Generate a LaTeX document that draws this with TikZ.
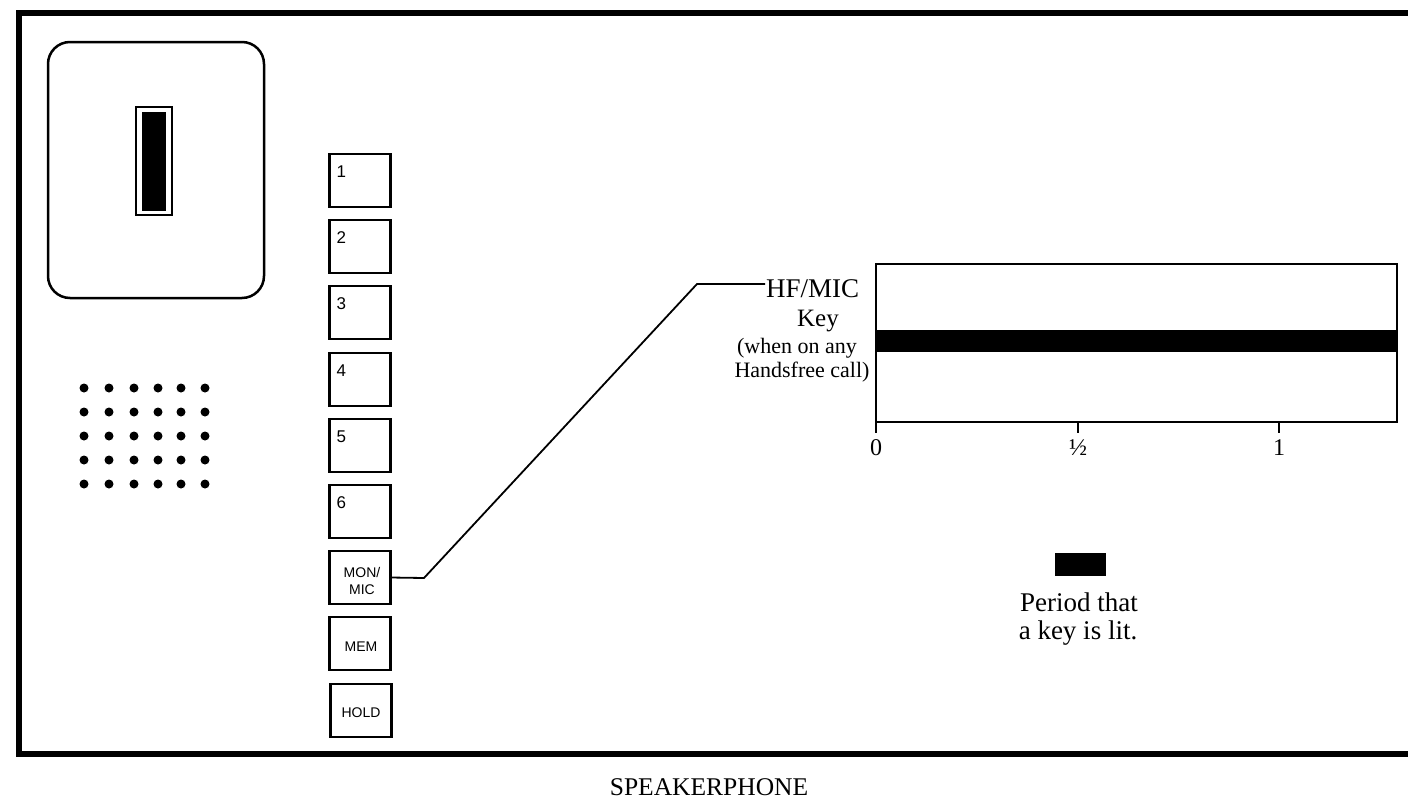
\documentclass[tikz,border=0pt]{standalone}
\usepackage{fontspec}
\setmainfont{Liberation Serif}
\newfontfamily\keyfont{Liberation Sans}
\begin{document}
\begin{tikzpicture}[x=1pt,y=-1pt,
  keybox/.style={draw, line width=2.2pt, minimum width=61pt, minimum height=53pt, inner sep=0pt, outer sep=0pt},
  keynum/.style={anchor=base west, inner sep=0pt, font=\keyfont\fontsize{17}{17}\selectfont},
  keylbl/.style={anchor=base, inner sep=0pt, font=\keyfont\fontsize{14}{14}\selectfont},
  serifbig/.style={anchor=base, inner sep=0pt, font=\fontsize{25}{25}\selectfont},
  seriflegend/.style={anchor=base, inner sep=0pt, font=\fontsize{27}{27}\selectfont},
  serifsmall/.style={anchor=base, inner sep=0pt, font=\fontsize{22}{22}\selectfont},
  ticklbl/.style={anchor=base, inner sep=0pt, font=\fontsize{24}{24}\selectfont},
  conn/.style={line width=1.8pt, line join=round}]
\useasboundingbox (0,0) rectangle (1408,798);
\fill[white] (0,0) rectangle (1408,798);
% outer frame (open to the right)
\draw[line width=6pt, line join=miter] (1408,13) -- (19,13) -- (19,754) -- (1408,754);
% handset area
\node[draw, line width=2.5pt, rounded corners=22pt, minimum width=216pt, minimum height=256pt, inner sep=0pt, outer sep=0pt] (handset) at (156,170) {};
\node[draw, line width=1.5pt, minimum width=36pt, minimum height=108pt, inner sep=0pt, outer sep=0pt] (slot) at (154,161) {};
\node[fill=black, minimum width=24pt, minimum height=99pt, inner sep=0pt, outer sep=0pt] (slotfill) at (154,161.5) {};
% speaker grille
\foreach \x in {84,109,134,158,181,205}
  \foreach \y in {388,412,436,460,484}
    \fill (\x,\y) circle (4.5pt);
% keys
\node[keybox] (k1) at (360,180.5) {};
\node[keybox] (k2) at (360,246.5) {};
\node[keybox] (k3) at (360,312.5) {};
\node[keybox] (k4) at (360,379.5) {};
\node[keybox] (k5) at (360,445.5) {};
\node[keybox] (k6) at (360,511.5) {};
\node[keybox] (kmon) at (360,577.5) {};
\node[keybox] (kmem) at (360,643.5) {};
\node[keybox] (khold) at (361,710.5) {};
\node[keynum] (n1) at ([shift={(7pt,-23pt)}]k1.north west) {1};
\node[keynum] (n2) at ([shift={(7pt,-23pt)}]k2.north west) {2};
\node[keynum] (n3) at ([shift={(7pt,-23pt)}]k3.north west) {3};
\node[keynum] (n4) at ([shift={(7pt,-23pt)}]k4.north west) {4};
\node[keynum] (n5) at ([shift={(7pt,-23pt)}]k5.north west) {5};
\node[keynum] (n6) at ([shift={(7pt,-23pt)}]k6.north west) {6};
\node[keylbl] (lmon1) at (362,577) {MON/};
\node[keylbl] (lmon2) at (362,594) {MIC};
\node[keylbl] (lmem) at (361,651) {MEM};
\node[keylbl] (lhold) at (361,717) {HOLD};
% chart
\node[draw, line width=2pt, minimum width=521pt, minimum height=158pt, inner sep=0pt, outer sep=0pt, anchor=north west] (chart) at (876,264) {};
\fill (876,330) rectangle (1397,352);
\draw[line width=2pt] (876,422) -- (876,433);
\draw[line width=2pt] (1078,422) -- (1078,433);
\draw[line width=2pt] (1279,422) -- (1279,433);
\node[ticklbl] (t0) at (876,455) {0};
\node[ticklbl] (th) at (1078,455) {½};
\node[ticklbl] (t1) at (1279,455) {1};
% labels
\node[anchor=base west, inner sep=0pt, font=\fontsize{27}{27}\selectfont] (hf) at (766,297) {HF/MIC};
\node[serifbig] (key) at (818,326) {Key};
\node[serifsmall] (when) at (797,353) {(when on any};
\node[serifsmall] (hands) at (802,377) {Handsfree call)};
% connector
\coordinate (c1) at (424,578);
\coordinate (c2) at (697,284);
\draw[conn] (kmon.east) -- (c1) -- (c2) -- ([xshift=-1pt]hf.west |- c2);
% legend
\node[fill=black, minimum width=51pt, minimum height=23pt, inner sep=0pt, outer sep=0pt] (legend) at (1080.5,564.5) {};
\node[seriflegend] (per1) at (1079,611) {Period that};
\node[seriflegend] (per2) at (1078,639) {a key is lit.};
% caption
\node[anchor=base, inner sep=0pt, font=\fontsize{25.5}{25.5}\selectfont] (cap) at (709,795) {SPEAKERPHONE};
\end{tikzpicture}
\end{document}
